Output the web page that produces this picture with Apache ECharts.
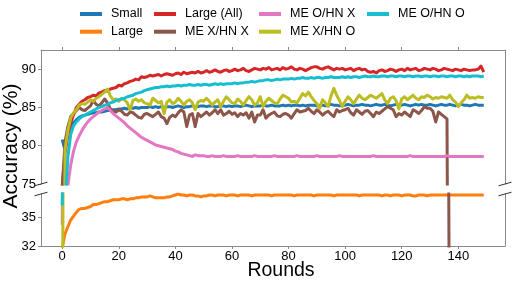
<!DOCTYPE html>
<html><head><meta charset="utf-8">
<script src="https://cdn.jsdelivr.net/npm/echarts@6/dist/echarts.min.js"></script>
<style>html,body{margin:0;padding:0;background:#fff}#c{width:515px;height:290px}</style>
</head><body><div id="c"></div>
<script>
// ---- data (index = round number) ----
const xTicks = [0,20,40,60,80,100,120,140];
const topYTicks = [75,80,85,90];
const bottomYTicks = [32,35];

const small = [80.8,79.4,81.6,82.5,83.0,83.4,83.7,83.9,84.0,84.1,
84.2,84.3,84.3,84.4,84.4,84.5,84.6,84.6,84.7,84.7,
84.8,84.8,84.9,84.8,84.9,84.9,85.0,84.9,85.0,85.0,
85.0,85.1,85.0,85.1,85.0,85.1,85.0,85.1,85.1,85.0,
85.1,85.2,85.1,85.0,85.1,85.1,85.2,85.1,85.1,85.2,
85.2,85.1,85.2,85.2,85.1,85.1,85.2,85.2,85.1,85.2,
85.1,85.2,85.2,85.1,85.2,85.3,85.2,85.1,85.2,85.2,
85.2,85.3,85.2,85.2,85.3,85.2,85.2,85.2,85.3,85.2,
85.3,85.2,85.3,85.3,85.2,85.3,85.2,85.3,85.3,85.3,
85.2,85.3,85.3,85.2,85.3,85.4,85.3,85.3,85.2,85.3,
85.3,85.4,85.3,85.2,85.3,85.3,85.4,85.3,85.3,85.2,
85.3,85.4,85.3,85.3,85.4,85.3,85.2,85.3,85.4,85.3,
85.3,85.4,85.3,85.2,85.3,85.4,85.3,85.4,85.3,85.3,
85.4,85.3,85.2,85.3,85.4,85.3,85.3,85.4,85.3,85.2,
85.3,85.4,85.3,85.3,85.2,85.3,85.4,85.3,85.3,85.3];

const large = [31.8,33.3,34.0,34.7,35.1,35.5,35.8,35.9,35.9,36.0,
36.1,36.3,36.3,36.4,36.5,36.6,36.6,36.7,36.8,36.8,
36.8,36.9,36.9,36.8,36.9,36.9,37.0,37.0,37.1,37.1,
37.1,37.2,37.1,37.0,37.0,37.0,37.0,37.1,37.1,37.2,
37.3,37.4,37.3,37.3,37.2,37.3,37.3,37.2,37.2,37.1,
37.2,37.2,37.3,37.3,37.2,37.3,37.3,37.3,37.2,37.3,
37.3,37.3,37.2,37.3,37.3,37.3,37.3,37.2,37.3,37.3,
37.3,37.3,37.3,37.3,37.2,37.3,37.3,37.3,37.3,37.3,
37.3,37.3,37.2,37.3,37.3,37.3,37.3,37.3,37.3,37.2,
37.3,37.3,37.3,37.3,37.3,37.3,37.2,37.3,37.3,37.3,
37.3,37.3,37.3,37.3,37.3,37.2,37.3,37.3,37.3,37.3,
37.3,37.3,37.3,37.2,37.3,37.3,37.2,37.3,37.3,37.3,
37.2,37.3,37.3,37.3,37.2,37.2,37.3,37.3,37.3,37.2,
37.3,37.3,37.3,37.3,37.3,37.3,37.3,37.3,37.3,37.3,
37.3,37.3,37.3,37.3,37.3,37.3,37.3,37.3,37.3,37.3];

const largeAll = [74.8,79.0,81.5,83.0,84.0,85.0,85.4,85.8,86.0,86.3,
86.4,86.6,86.5,86.9,87.0,87.2,87.1,87.4,87.5,87.6,
87.9,87.8,88.1,88.2,88.4,88.5,88.7,88.6,89.0,88.9,
89.0,89.2,89.1,89.2,89.3,89.1,89.3,89.4,89.3,89.2,
89.4,89.5,89.3,89.6,89.4,89.5,89.6,89.5,89.7,89.5,
89.6,89.8,89.6,89.7,89.9,89.7,89.6,89.8,89.9,89.7,
89.8,90.0,89.8,89.9,90.1,89.8,89.7,89.9,90.1,90.0,
89.9,90.1,90.0,90.2,89.9,90.0,90.1,89.9,90.2,90.0,
90.1,90.3,90.0,89.9,90.1,90.0,89.8,90.0,90.2,90.3,
90.3,90.1,90.0,90.2,90.3,90.1,89.9,90.1,90.0,90.1,
89.9,90.0,90.1,89.8,90.0,90.1,89.9,90.0,89.7,89.6,
89.7,89.5,89.8,89.9,89.7,89.8,90.0,89.9,89.7,89.9,
90.0,89.8,90.1,89.9,90.0,90.1,89.8,89.9,90.1,90.0,
89.9,90.1,90.0,89.8,89.9,90.1,90.0,89.9,89.8,90.0,
89.9,89.8,90.0,89.9,89.8,89.9,89.9,90.0,90.4,89.6];

const meXhnX = [74.5,80.5,82.5,83.8,84.2,84.6,85.0,84.7,84.6,84.9,
85.2,85.9,85.4,85.2,85.6,86.1,85.6,84.8,84.5,84.4,
84.7,84.5,84.1,84.0,84.4,84.3,84.0,83.7,83.6,84.1,
84.2,84.0,83.8,84.1,84.4,83.8,83.6,82.9,83.7,84.0,
83.8,84.3,84.7,84.4,82.5,84.0,84.2,82.5,84.2,83.8,
84.1,84.4,84.0,84.3,84.7,84.2,84.7,84.0,84.2,84.5,
84.1,84.3,83.8,84.2,84.0,84.3,83.6,84.4,83.1,84.0,
84.0,84.7,83.6,84.0,84.2,84.4,83.9,83.8,84.1,84.2,
84.0,83.6,84.2,84.7,84.4,84.5,84.6,84.9,84.5,84.2,
84.7,84.4,84.0,84.3,84.5,84.1,83.8,84.7,84.4,84.6,
84.7,84.9,84.3,84.0,84.7,84.4,84.1,84.5,84.6,84.2,
83.8,84.4,84.2,84.5,84.8,85.1,84.9,84.7,83.8,84.2,
84.0,84.4,84.1,83.8,84.7,84.5,84.2,84.6,85.1,84.9,
84.9,84.5,83.1,84.4,84.1,83.8,83.5,10];

const meOhnX = [34.2,66.0,74.8,77.5,79.3,80.5,81.3,82.0,82.6,83.1,
83.5,83.8,84.1,84.4,84.6,84.8,85.0,84.6,84.2,83.9,
83.6,83.3,83.0,82.6,82.3,82.0,81.7,81.4,81.1,80.9,
80.7,80.5,80.3,80.1,80.0,79.9,79.8,79.7,79.6,79.5,
79.3,79.2,79.0,78.9,78.8,78.7,78.6,78.8,78.7,78.7,
78.7,78.6,78.6,78.7,78.6,78.6,78.6,78.7,78.6,78.6,
78.6,78.6,78.7,78.6,78.6,78.6,78.6,78.6,78.7,78.6,
78.6,78.6,78.6,78.6,78.6,78.7,78.6,78.6,78.6,78.6,
78.6,78.6,78.6,78.7,78.6,78.6,78.6,78.6,78.6,78.6,
78.7,78.6,78.6,78.6,78.6,78.6,78.6,78.6,78.7,78.6,
78.6,78.6,78.6,78.6,78.6,78.6,78.6,78.6,78.6,78.6,
78.7,78.6,78.6,78.6,78.6,78.6,78.6,78.6,78.6,78.6,
78.6,78.6,78.6,78.7,78.6,78.6,78.6,78.6,78.6,78.6,
78.6,78.6,78.6,78.6,78.6,78.6,78.7,78.6,78.6,78.6,
78.6,78.6,78.6,78.6,78.6,78.6,78.6,78.6,78.6,78.6];

const meXhnO = [20,79.5,82.0,83.6,84.3,84.7,85.3,85.5,85.4,85.7,
86.0,85.8,86.2,86.4,86.7,87.0,87.4,86.5,86.0,86.1,
85.8,86.2,86.0,85.6,84.7,85.9,86.1,85.8,86.0,85.6,
85.5,85.3,86.2,85.9,85.6,85.8,84.2,85.7,86.0,85.5,
85.7,86.2,85.8,85.3,85.8,86.0,85.6,84.7,85.7,85.9,
85.8,86.2,85.8,85.3,85.7,86.0,85.1,85.8,86.4,86.0,
85.6,85.5,86.1,85.8,85.3,85.9,86.4,86.0,85.3,85.6,
86.4,85.1,85.8,86.2,85.9,85.6,85.5,86.1,86.6,86.4,
86.2,85.7,85.8,85.6,86.2,86.8,86.5,87.0,86.4,85.9,
85.5,84.9,86.0,85.6,85.1,86.5,87.5,86.6,85.9,85.1,
85.8,86.4,86.0,85.5,86.1,86.6,86.2,86.0,86.3,86.6,
86.4,86.2,86.5,86.8,86.0,85.5,86.2,86.4,85.9,84.8,
86.1,86.4,86.0,86.3,86.6,86.2,86.0,86.4,86.3,86.6,
86.4,86.1,86.3,86.2,86.4,86.3,86.2,86.6,86.0,85.7,
85.1,85.6,86.0,86.6,86.2,86.3,86.2,86.4,86.3,86.3];

const meOhnO = [36.2,72.0,78.5,81.5,82.6,83.1,83.5,83.8,84.0,84.2,
84.4,84.6,84.8,85.0,85.1,85.3,85.4,85.6,85.7,85.9,
86.0,86.1,86.2,86.4,86.5,86.6,86.8,86.9,87.0,87.2,
87.3,87.4,87.5,87.6,87.6,87.7,87.7,87.8,87.7,87.8,
87.8,87.9,87.8,87.9,87.9,88.0,87.9,87.9,88.0,87.9,
88.0,88.0,87.9,88.0,88.1,88.0,88.1,88.0,88.1,88.1,
88.1,88.2,88.1,88.2,88.2,88.3,88.3,88.4,88.3,88.4,
88.5,88.5,88.6,88.6,88.5,88.6,88.7,88.6,88.7,88.7,
88.7,88.8,88.7,88.8,88.8,88.9,88.8,88.8,88.9,88.8,
88.9,88.9,88.8,88.9,88.9,89.0,88.9,88.9,88.9,89.0,
88.9,89.0,88.9,89.0,89.0,88.9,89.0,89.1,89.0,89.0,
89.1,89.0,89.0,89.1,89.1,89.0,89.1,89.1,89.0,89.1,
89.1,89.0,89.1,89.1,89.0,89.1,89.1,89.0,89.1,89.1,
89.0,89.1,89.1,89.0,89.1,89.1,89.0,89.1,89.1,89.0,
89.1,89.1,89.0,89.1,89.0,89.1,89.1,89.1,89.0,89.1];

const seriesNames = ['Small','Large','Large (All)','ME X/HN X','ME O/HN X','ME X/HN O','ME O/HN O'];
const seriesValues = [small, large, largeAll, meXhnX, meOhnX, meXhnO, meOhnO];
const seriesColors = ['#1f77b4','#ff7f0e','#d62728','#8c564b','#e377c2','#bcbd22','#17becf'];

// ---- layout / style ----
const FONT = 'Liberation Sans, Arial, sans-serif';
const SPINE = '#8a8a8a';
const G0 = {left:41, top:50, width:464, height:134};
const G1 = {left:41, top:194, width:464, height:52};

const chart = echarts.init(document.getElementById('c'), null, {renderer:'canvas'});

function mkSeries(idx, gi){
  const c = seriesColors[idx];
  return {
    type:'line', name:seriesNames[idx], xAxisIndex:gi, yAxisIndex:gi===0?0:2,
    data: seriesValues[idx].map((v,i)=>[i,v]),
    symbol:'none', showSymbol:false, clip:true, silent:true,
    lineStyle:{width:3, color:c, join:'round', cap:'butt'},
    itemStyle:{color:c}, emphasis:{disabled:true}, animation:false
  };
}
const series = [];
for (let gi=0; gi<2; gi++) for (let i=0;i<seriesNames.length;i++) series.push(mkSeries(i,gi));

function xAx(gi, pos, labels){
  return {
    gridIndex:gi, type:'value', min:-7.5, max:156.5, position:pos,
    axisLine:{show:true, onZero:false, lineStyle:{color:SPINE, width:1}},
    axisTick:{show:true, length:3, customValues:xTicks, lineStyle:{color:SPINE}},
    axisLabel:labels ? {show:true, customValues:xTicks, color:'#000', fontSize:13, fontFamily:FONT, margin:4} : {show:false},
    splitLine:{show:false}
  };
}
function yAx(gi, min, max, ticks, pos){
  const left = pos==='left';
  return {
    gridIndex:gi, type:'value', min:min, max:max, position:pos,
    axisLine:{show:true, onZero:false, lineStyle:{color:SPINE, width:1}},
    axisTick:{show:left, length:3, customValues:ticks, lineStyle:{color:SPINE}},
    axisLabel:left ? {show:true, customValues:ticks, color:'#000', fontSize:13, fontFamily:FONT, margin:5} : {show:false},
    splitLine:{show:false}
  };
}

function legendCol(left, data){
  return {
    orient:'vertical', left:left, top:7, padding:0, itemGap:3.7,
    itemWidth:22, itemHeight:4, icon:'rect', data:data, selectedMode:false,
    textStyle:{color:'#000', fontSize:12.5, fontFamily:FONT, lineHeight:14, padding:[0,0,0,4]}
  };
}

// break marks (decoration) around the gap, on the left and right spines
const brk = [];
[G0.left, G0.left+G0.width].forEach(x=>{
  [G0.top+G0.height, G1.top].forEach(y=>{
    brk.push({type:'line', silent:true, shape:{x1:x-6.5, y1:y+1.8, x2:x+6.5, y2:y-1.8},
      style:{stroke:'#333', lineWidth:1}, z:100});
  });
});

chart.setOption({
  animation:false,
  backgroundColor:'#fff',
  grid:[G0, G1],
  xAxis:[xAx(0,'top',false), xAx(1,'bottom',true)],
  yAxis:[yAx(0,75,92.5,topYTicks,'left'), yAx(0,75,92.5,topYTicks,'right'),
         yAx(1,32,37.4,bottomYTicks,'left'), yAx(1,32,37.4,bottomYTicks,'right')],
  legend:[legendCol(80,['Small','Large']), legendCol(154,['Large (All)','ME X/HN X']),
          legendCol(259,['ME O/HN X','ME X/HN O']), legendCol(367,['ME O/HN O'])],
  graphic:[
    {type:'text', silent:true, x:11, y:146, rotation:Math.PI/2,
     style:{text:'Accuracy (%)', fontSize:21, fontFamily:FONT, fill:'#000', align:'center', verticalAlign:'middle'}},
    {type:'text', silent:true, x:281, y:271,
     style:{text:'Rounds', fontSize:19.5, fontFamily:FONT, fill:'#000', align:'center', verticalAlign:'middle'}}
  ].concat(brk),
  series:series
});
</script></body></html>
